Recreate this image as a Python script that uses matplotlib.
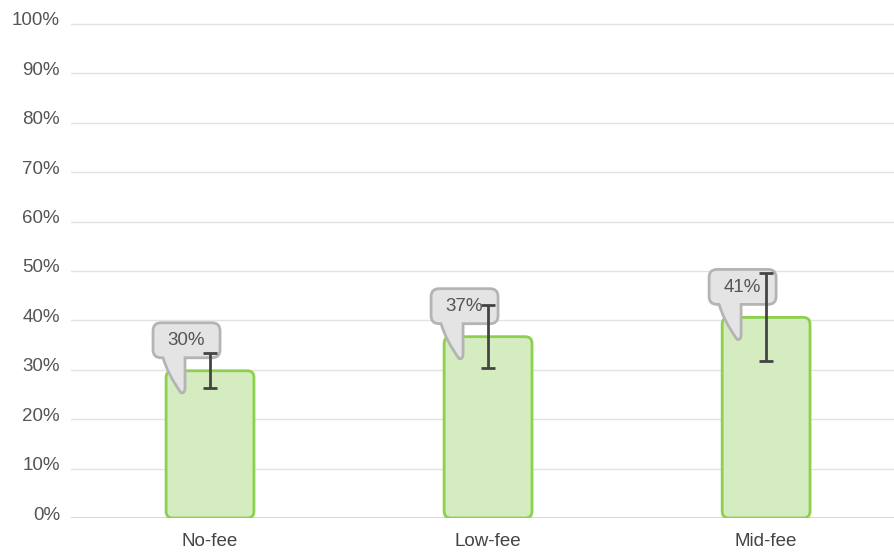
import matplotlib
matplotlib.use('Agg')
import matplotlib.pyplot as plt
import matplotlib.patches as patches
import matplotlib.transforms as mtrans
from matplotlib.path import Path

plt.rcParams['font.family'] = ['Liberation Sans', 'DejaVu Sans']

# data
categories = ['No-fee', 'Low-fee', 'Mid-fee']
values = [29.8, 36.7, 40.6]
err_low = [26.3, 30.4, 31.8]
err_high = [33.4, 43.1, 49.6]
yticks = [0, 10, 20, 30, 40, 50, 60, 70, 80, 90, 100]

bar_fill = '#d4ecbf'
bar_edge = '#8dd04e'
grid_col = '#e3e3e3'
text_col = '#555555'

fig = plt.figure(figsize=(8.94, 5.53), dpi=100)
ax = fig.add_axes([71 / 894, 35 / 553, 823 / 894, 499 / 553])
ax.set_xlim(-0.5, 2.46)
ax.set_ylim(0, 101)

# grid lines
for t in yticks:
    ax.axhline(t, color='#d4d4d4' if t == 0 else grid_col, lw=1.3 if t == 0 else 1, zorder=0)

# bars with rounded corners
x = list(range(len(categories)))
bw = 0.316
bars = ax.bar(x, values, width=bw, color='none', edgecolor='none')
px_x = 823 / 2.96
px_y = 499 / 101
for b in bars:
    fb = patches.FancyBboxPatch((b.get_x(), b.get_y()), b.get_width(), b.get_height(),
                                boxstyle='round,pad=0,rounding_size=0.024',
                                mutation_aspect=px_x / px_y,
                                facecolor=bar_fill, edgecolor=bar_edge, lw=2, zorder=2)
    ax.add_patch(fb)

# error bars
yerr = [[v - lo for v, lo in zip(values, err_low)], [hi - v for v, hi in zip(values, err_high)]]
ax.errorbar(x, values, yerr=yerr, fmt='none', ecolor='#444444', elinewidth=2,
            capsize=5, capthick=2, zorder=4)


def callout_path():
    # pixel offsets relative to bar top centre, y up
    L, R, B, T, r = -57, 10, 13, 48, 8
    verts = [
        (L, B + r), (L, T - r), (L, T), (L + r, T),
        (R - r, T), (R, T), (R, T - r),
        (R, B + r), (R, B), (R - r, B),
        (-25, B), (-25, -17), (-25, -23), (-29, -22),
        (-42, -4), (-47, B),
        (L + r, B), (L, B), (L, B + r), (L, B + r),
    ]
    codes = [Path.MOVETO, Path.LINETO, Path.CURVE3, Path.CURVE3,
             Path.LINETO, Path.CURVE3, Path.CURVE3,
             Path.LINETO, Path.CURVE3, Path.CURVE3,
             Path.LINETO, Path.LINETO, Path.CURVE3, Path.CURVE3,
             Path.CURVE3, Path.CURVE3,
             Path.LINETO, Path.CURVE3, Path.CURVE3, Path.CLOSEPOLY]
    verts = [(vx / 100, vy / 100) for vx, vy in verts]
    return Path(verts, codes)


for xi, v in zip(x, values):
    tr = fig.dpi_scale_trans + mtrans.ScaledTranslation(xi, v, ax.transData)
    p = patches.PathPatch(callout_path(), transform=tr, facecolor='#e4e4e4',
                          edgecolor='#b4b4b4', lw=2, zorder=3, clip_on=False)
    ax.add_patch(p)
    ax.text(-0.24, 0.30, f'{round(v)}%', transform=tr, ha='center', va='center',
            fontsize=13.5, color=text_col, zorder=5)

ax.set_yticks(yticks)
ax.set_yticklabels([f'{t}%' for t in yticks])
ax.set_xticks(x)
ax.set_xticklabels(categories)
ax.tick_params(axis='y', length=0, pad=8, labelsize=13.5, labelcolor=text_col)
ax.tick_params(axis='x', length=0, pad=11, labelsize=13.5, labelcolor='#444444')
for lab in ax.get_yticklabels():
    lab.set_transform(lab.get_transform() + mtrans.ScaledTranslation(0, 5 / 100, fig.dpi_scale_trans))
for s in ax.spines.values():
    s.set_visible(False)

fig.savefig('out.png', dpi=100)
